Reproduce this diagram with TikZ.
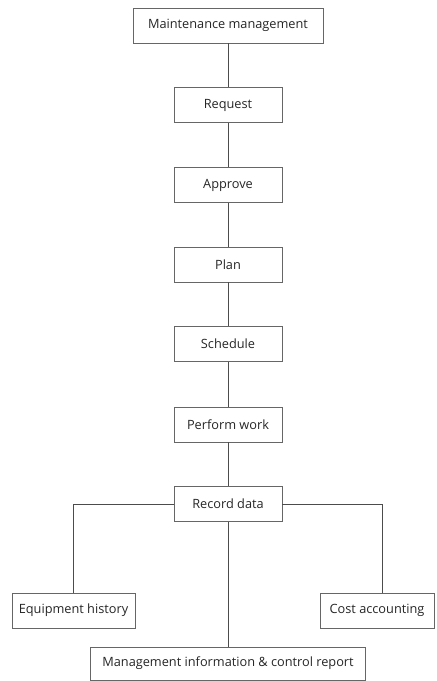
\documentclass[tikz,border=0pt]{standalone}
\usepackage{fontspec}
\setmainfont{Open Sans}
\begin{document}
\begin{tikzpicture}[x=1bp,y=-1bp,
  box/.style={draw=black!60,line width=0.8bp,fill=white,inner sep=0pt,text=black!85,font=\fontsize{12.8}{14}\selectfont},
  stepbox/.style={box,minimum width=108bp,minimum height=35bp},
  conn/.style={draw=black!70,line width=0.8bp}]
\useasboundingbox (0,0) rectangle (437,681);
\node[box,minimum width=190bp,minimum height=35bp] (mm) at (228,25.5) {Maintenance management};
\node[stepbox] (req) at (228,105) {Request};
\node[stepbox] (app) at (228,185) {Approve};
\node[stepbox] (plan) at (228,264.5) {Plan};
\node[stepbox] (sch) at (228,344) {Schedule};
\node[stepbox] (perf) at (228,424.5) {Perform work};
\node[stepbox] (rec) at (228,504) {Record data};
\node[box,minimum width=123bp,minimum height=35bp] (eq) at (73.5,610.5) {Equipment history};
\node[box,minimum width=114bp,minimum height=35bp] (cost) at (377,610.5) {Cost accounting};
\node[box,minimum width=275bp,minimum height=33bp] (mi) at (228,663.5) {Management information \& control report};
\coordinate (cn) at (382,593);
\draw[conn] (mm) -- (req);
\draw[conn] (req) -- (app);
\draw[conn] (app) -- (plan);
\draw[conn] (plan) -- (sch);
\draw[conn] (sch) -- (perf);
\draw[conn] (perf) -- (rec);
\draw[conn] (rec.west) -| (eq.north);
\draw[conn] (rec.east) -| (cn);
\draw[conn] (rec) -- (mi);
\end{tikzpicture}
\end{document}
